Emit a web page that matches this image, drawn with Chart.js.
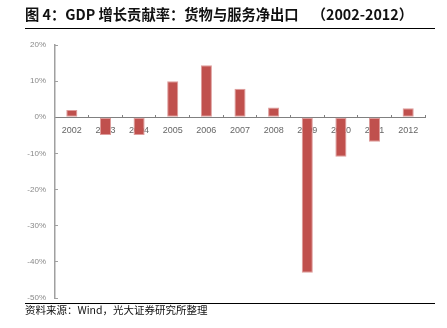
<!DOCTYPE html>
<html>
<head>
<meta charset="utf-8">
<script src="https://cdn.jsdelivr.net/npm/chart.js@4/dist/chart.umd.min.js"></script>
<style>
html,body{margin:0;padding:0;background:#fff;}
#wrap{position:relative;width:447px;height:328px;overflow:hidden;}
#c{position:absolute;left:0;top:0;}
#title{position:absolute;left:25px;top:4px;font-family:"Noto Sans CJK SC";font-weight:bold;font-size:14.3px;color:#111;white-space:pre;line-height:20px;}
#l1{position:absolute;left:25px;top:28px;width:410px;height:1px;background:#000;}
#l2{position:absolute;left:25px;top:303px;width:410px;height:1px;background:#000;}
#src{position:absolute;left:25px;top:302px;font-family:"Noto Sans CJK SC";font-size:10.5px;color:#111;white-space:nowrap;line-height:16px;}
</style>
</head>
<body>
<div id="wrap">
<canvas id="c" width="447" height="328"></canvas>
<div id="title">图 4：GDP 增长贡献率：货物与服务净出口    （2002-2012）</div>
<div id="l1"></div>
<div id="l2"></div>
<div id="src">资料来源：Wind，光大证券研究所整理</div>
</div>
<script>
const categories = ['2002','2003','2004','2005','2006','2007','2008','2009','2010','2011','2012'];
const netExports = [2.0, -4.9, -4.9, 10.0, 14.4, 7.9, 2.7, -43.0, -10.9, -6.8, 2.5];
const yTicks = [20, 10, 0, -10, -20, -30, -40, -50];

new Chart(document.getElementById('c'), {
  type: 'bar',
  data: {
    labels: categories,
    datasets: [{
      data: netExports,
      backgroundColor: '#C0504D',
      borderColor: '#DE9C9B',
      borderWidth: 1,
      borderSkipped: false,
      categoryPercentage: 1,
      barPercentage: 0.33
    }]
  },
  options: {
    responsive: false,
    animation: false,
    layout: { padding: { top: 45, bottom: 30, right: 22, left: 0 } },
    plugins: { legend: { display: false }, tooltip: { enabled: false } },
    scales: {
      x: {
        position: { y: 0 },
        offset: true,
        grid: { display: true, drawOnChartArea: false, offset: true, tickLength: -3, color: '#808080' },
        border: { display: true, color: '#808080', width: 1 },
        ticks: { color: '#666', font: { family: 'Liberation Sans', size: 9 }, padding: 11, maxRotation: 0, autoSkip: false }
      },
      y: {
        min: -50, max: 20,
        afterFit: s => { s.width = 55; },
        afterBuildTicks: s => { s.ticks = yTicks.map(v => ({ value: v })); },
        grid: { display: true, drawOnChartArea: false, tickLength: -3, color: '#a0a0a0' },
        border: { display: true, color: '#a0a0a0', width: 1.5 },
        ticks: { color: '#888', font: { family: 'Liberation Sans', size: 8 }, padding: 12, callback: v => v + '%' }
      }
    }
  }
});
</script>
</body>
</html>
